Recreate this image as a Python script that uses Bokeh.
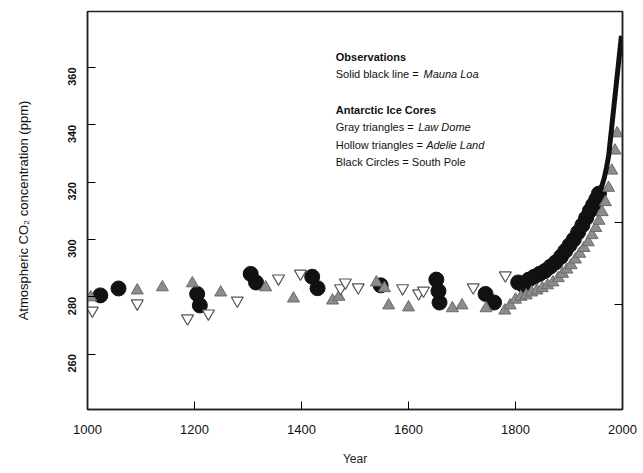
import math
from bokeh.plotting import figure
from bokeh.models import LinearAxis, FixedTicker, Label
from bokeh.embed import file_html
from bokeh.resources import INLINE

# ---- data ----
law_dome_year = [1006, 1093, 1140, 1196, 1249, 1333, 1385, 1458, 1470, 1540, 1555, 1563,
                 1600, 1682, 1700, 1745, 1780, 1790, 1800, 1810, 1820, 1830, 1840, 1850,
                 1860, 1870, 1880, 1888, 1896, 1904, 1912, 1920, 1928, 1936, 1943, 1950,
                 1956, 1962, 1968, 1974, 1980, 1986, 1990]
law_dome_ppm = [279.8, 282.2, 283.3, 284.7, 281.5, 283.3, 279.4, 278.7, 280.0, 285.0, 283.0, 277.0,
                276.3, 276.0, 277.0, 276.0, 275.2, 277.0, 279.0, 280.0, 280.5, 281.5, 282.2, 283.0,
                284.0, 285.0, 286.5, 288.0, 289.5, 291.0, 293.0, 295.0, 297.0, 299.0, 301.5, 304.0,
                306.5, 309.5, 313.0, 318.0, 324.0, 331.0, 337.0]

adelie_year = [1009, 1093, 1187, 1226, 1280, 1357, 1398, 1473, 1482, 1506, 1589, 1619, 1628,
               1721, 1781]
adelie_ppm = [275.2, 277.7, 272.5, 274.2, 278.7, 286.4, 288.1, 283.0, 285.0, 283.3, 283.0, 281.2,
              282.2, 283.3, 287.5]

south_pole_year = [1024, 1058, 1205, 1210, 1305, 1315, 1420, 1430, 1548, 1652, 1656, 1658,
                   1744, 1760, 1805, 1815, 1825, 1835, 1845, 1855, 1865, 1875, 1885, 1893,
                   1901, 1909, 1917, 1925, 1932, 1939, 1945, 1951, 1956]
south_pole_ppm = [280.5, 282.9, 281.0, 277.0, 288.0, 285.0, 287.0, 283.0, 284.0, 286.0, 282.0,
                  278.0, 281.0, 278.0, 285.0, 284.0, 286.0, 287.0, 288.0, 289.0, 290.5, 292.0,
                  294.0, 296.0, 298.0, 300.0, 302.5, 305.0, 307.5, 310.0, 312.0, 314.0, 316.0]

mauna_loa_year = [1958, 1962, 1966, 1970, 1974, 1978, 1982, 1986, 1990, 1994, 1998]
mauna_loa_ppm = [317, 319, 321.5, 325, 329, 336, 343, 350, 357, 364, 371]

x_ticks = [1000, 1200, 1400, 1600, 1800, 2000]
y_ticks = [260, 280, 300, 320, 340, 360]
right_ticks = [277.3, 305.9]

FONT = "Liberation Sans"

p = figure(width=643, height=473, x_range=(1000, 2000), y_range=(240.7, 379.5),
           output_backend="svg", toolbar_location=None,
           min_border_left=87, min_border_right=21, min_border_top=11, min_border_bottom=64)
p.grid.visible = False
p.outline_line_color = "#222222"
p.outline_line_width = 1.5
p.background_fill_color = "white"
p.border_fill_color = "white"

# x axis
xa = p.xaxis[0]
xa.ticker = FixedTicker(ticks=x_ticks)
xa.major_tick_in = 8
xa.major_tick_out = 0
xa.minor_tick_line_color = None
xa.axis_line_width = 1.5
xa.axis_line_color = "#222222"
xa.major_label_text_font = FONT
xa.major_label_text_font_size = "13px"
xa.major_label_text_color = "#111111"
xa.major_label_standoff = 15
xa.axis_label = "Year"
xa.axis_label_text_font = FONT
xa.axis_label_text_font_style = "normal"
xa.axis_label_text_font_size = "12px"
xa.axis_label_text_color = "#222222"
xa.axis_label_standoff = 15

# y axis
ya = p.yaxis[0]
ya.ticker = FixedTicker(ticks=y_ticks)
ya.major_tick_in = 8
ya.major_tick_out = 0
ya.minor_tick_line_color = None
ya.axis_line_width = 1.5
ya.axis_line_color = "#222222"
ya.major_label_orientation = math.pi / 2
ya.major_label_text_font = FONT
ya.major_label_text_font_size = "11px"
ya.major_label_text_font_style = "bold"
ya.major_label_text_color = "#111111"
ya.major_label_standoff = 15
ya.axis_label = "Atmospheric CO\u2082 concentration (ppm)"
ya.axis_label_text_font = FONT
ya.axis_label_text_font_style = "normal"
ya.axis_label_text_font_size = "13px"
ya.axis_label_text_color = "#111111"
ya.axis_label_standoff = 31

# right axis: inward ticks only
ra = LinearAxis(ticker=FixedTicker(ticks=right_ticks),
                major_label_overrides={t: "" for t in right_ticks})
ra.major_tick_in = 8
ra.major_tick_out = 0
ra.minor_tick_line_color = None
ra.axis_line_width = 1.5
ra.axis_line_color = "#222222"
ra.major_label_standoff = 0
p.add_layout(ra, "right")

# data marks
p.scatter(south_pole_year, south_pole_ppm, marker="circle", size=15,
          fill_color="#111111", line_color="#111111")
p.scatter(law_dome_year, law_dome_ppm, marker="triangle", size=12,
          fill_color="#8c8c8c", line_color="#6a6a6a", line_width=1)
p.scatter(adelie_year, adelie_ppm, marker="inverted_triangle", size=12,
          fill_color="white", line_color="#555555", line_width=1.2)
p.line(mauna_loa_year, mauna_loa_ppm, line_color="#111111", line_width=5)

# legend-like text block
def lab(x, y, text, style="normal"):
    p.add_layout(Label(x=x, y=y, text=text, text_font=FONT, text_font_size="11px",
                       text_font_style=style, text_color="#111111", text_baseline="middle",
                       text_align="left"))

x0 = 1464
lab(x0, 363.5, "Observations", "bold")
lab(x0, 357.6, "Solid black line =")
lab(x0 + 164, 357.6, "Mauna Loa", "italic")
lab(x0, 345.0, "Antarctic Ice Cores", "bold")
lab(x0, 339.1, "Gray triangles =")
lab(x0 + 154, 339.1, "Law Dome", "italic")
lab(x0, 332.8, "Hollow triangles =")
lab(x0 + 169, 332.8, "Adelie Land", "italic")
lab(x0, 326.9, "Black Circles = South Pole")

open("out.html", "w").write(file_html(p, INLINE))
